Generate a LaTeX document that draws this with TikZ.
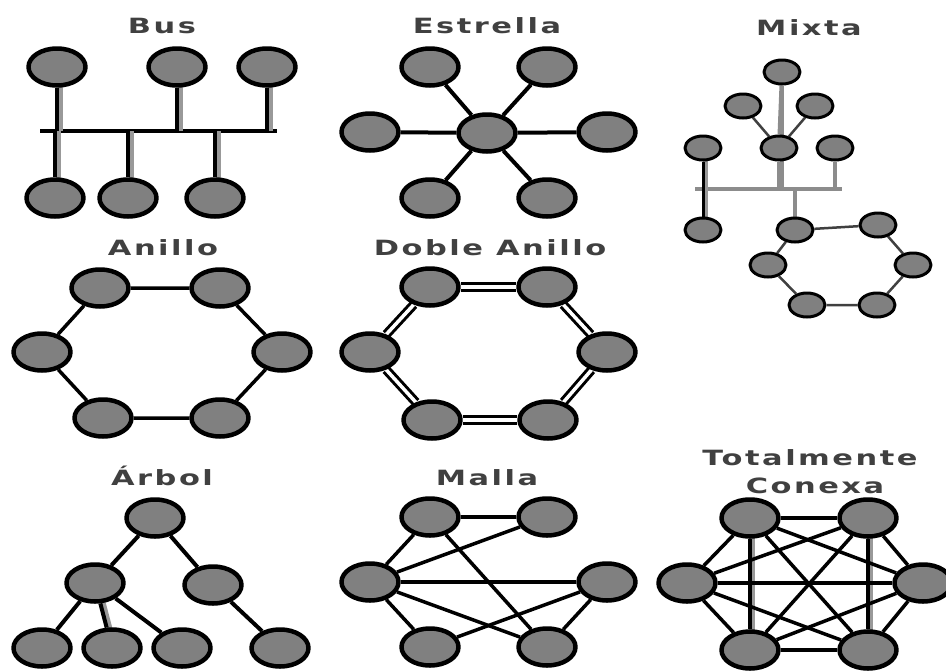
\documentclass[tikz,border=0pt]{standalone}
\usepackage{fontspec}
\usepackage{tikz}
\usetikzlibrary{shapes.geometric, backgrounds}
\newfontfamily\titlefont[FakeStretch=1.45, LetterSpace=12]{DejaVu Sans Bold}

\begin{document}
\begin{tikzpicture}[x=1pt, y=-1pt, line join=round,
  station/.style={ellipse, draw=black, fill=black!50, line width=4.5pt, inner sep=0pt, minimum width=57pt, minimum height=37pt},
  small station/.style={station, line width=3pt, minimum width=36pt, minimum height=24pt},
  heading/.style={font=\titlefont\fontsize{21}{24}\selectfont, text=black!75, anchor=base, inner sep=0pt},
  link/.style={line width=4pt, black},
  ring link/.style={line width=3.5pt, black},
  twin link/.style={double, double distance=3.5pt, line width=3pt},
  grey line/.style={line width=5pt, black!40},
  mix line/.style={line width=4pt, black!45},
  mix link/.style={line width=2.5pt, black!75}]

\useasboundingbox (0,0) rectangle (946,670);

%titles
\node[heading] (tBus) at (162,33) {Bus};
\node[heading] (tEst) at (487,33) {Estrella};
\node[heading] (tMix) at (809,35) {Mixta};
\node[heading] (tAni) at (163,255) {Anillo};
\node[heading] (tDob) at (490,255) {Doble Anillo};
\node[heading] (tArb) at (162,485) {Árbol};
\node[heading] (tMal) at (487,485) {Malla};
\node[heading] (tTot) at (810,465) {Totalmente};
\node[heading] (tCon) at (815,493) {Conexa};

% Bus
\node[station] (bu1) at (57,67) {};
\node[station] (bu2) at (177,67) {};
\node[station] (bu3) at (267,67) {};
\node[station] (bd1) at (55,198) {};
\node[station] (bd2) at (128,198) {};
\node[station] (bd3) at (215,198) {};
\coordinate (busL) at (40,131);
\coordinate (busR) at (277,131);

% Estrella
\node[station] (st0) at (487,133) {};
\node[station] (st1) at (430,67) {};
\node[station] (st2) at (547,67) {};
\node[station] (st3) at (607,132) {};
\node[station] (st4) at (547,198) {};
\node[station] (st5) at (430,198) {};
\node[station] (st6) at (370,132) {};

% Mixta
\node[small station] (mx1) at (782,72) {};
\node[small station] (mx2) at (743,106) {};
\node[small station] (mx3) at (815,106) {};
\node[small station] (mx4) at (703,148) {};
\node[small station] (mx5) at (779,148) {};
\node[small station] (mx6) at (835,148) {};
\node[small station] (mx7) at (703,230) {};
\node[small station] (rg1) at (795,230) {};
\node[small station] (rg2) at (878,225) {};
\node[small station] (rg3) at (913,265) {};
\node[small station] (rg4) at (877,305) {};
\node[small station] (rg5) at (807,305) {};
\node[small station] (rg6) at (768,265) {};
\coordinate (mixL) at (695,189);
\coordinate (mixR) at (842,189);

% Anillo
\node[station] (an1) at (100,288) {};
\node[station] (an2) at (220,288) {};
\node[station] (an3) at (282,352) {};
\node[station] (an4) at (220,418) {};
\node[station] (an5) at (103,418) {};
\node[station] (an6) at (42,352) {};

% Doble Anillo
\node[station] (da1) at (430,287) {};
\node[station] (da2) at (547,287) {};
\node[station] (da3) at (607,352) {};
\node[station] (da4) at (548,420) {};
\node[station] (da5) at (432,420) {};
\node[station] (da6) at (370,352) {};

% Arbol
\node[station] (ar0) at (155,518) {};
\node[station] (ar1) at (95,583) {};
\node[station] (ar2) at (213,585) {};
\node[station] (ar3) at (42,648) {};
\node[station] (ar4) at (112,648) {};
\node[station] (ar5) at (182,648) {};
\node[station] (ar6) at (280,648) {};

% Malla
\node[station] (ma1) at (430,517) {};
\node[station] (ma2) at (547,517) {};
\node[station] (ma3) at (607,582) {};
\node[station] (ma4) at (547,647) {};
\node[station] (ma5) at (430,647) {};
\node[station] (ma6) at (370,582) {};

% Totalmente Conexa
\node[station] (tc1) at (750,518) {};
\node[station] (tc2) at (868,518) {};
\node[station] (tc3) at (923,583) {};
\node[station] (tc4) at (868,650) {};
\node[station] (tc5) at (750,650) {};
\node[station] (tc6) at (687,583) {};

\begin{scope}[on background layer]
% bus line and drops
\draw[link] (busL) -- (busR);
\foreach \n in {bu1,bu2,bu3,bd1,bd2,bd3} {
  \draw[grey line] ([xshift=3pt]\n.center) -- ([xshift=3pt]\n |- busL);
  \draw[link] (\n) -- (\n |- busL);
}

% star
\foreach \n in {st1,st2,st3,st4,st5,st6}
  \draw[link] (st0) -- (\n);

% mixed
\draw[mix line] (mixL) -- (mixR);
\foreach \n in {mx1,mx5,mx6}
  \draw[mix line] (\n) -- (\n |- mixL);
\draw[mix line] (mx5) -- (mx1);
\draw[grey line] ([xshift=2pt]mx4.center) -- ([xshift=2pt]mx7.center);
\draw[line width=3pt] (mx4) -- (mx7);
\draw[mix line] (rg1 |- mixL) -- (rg1);
\draw[mix link] (mx2) -- (mx5) (mx3) -- (mx5);
\draw[mix link] (rg1) -- (rg2) -- (rg3) -- (rg4) -- (rg5) -- (rg6) -- (rg1);

% ring
\draw[ring link] (an1) -- (an2) -- (an3) -- (an4) -- (an5) -- (an6) -- (an1);

% double ring
\foreach \a/\b in {da1/da2,da2/da3,da3/da4,da4/da5,da5/da6,da6/da1}
  \draw[twin link] (\a) -- (\b);

% tree
\draw[grey line] ([xshift=3pt]ar1.center) -- ([xshift=3pt]ar4.center);
\foreach \a/\b in {ar0/ar1,ar0/ar2,ar1/ar3,ar1/ar4,ar1/ar5,ar2/ar6}
  \draw[link] (\a) -- (\b);

% mesh
\foreach \a/\b in {ma1/ma2,ma1/ma6,ma2/ma6,ma1/ma4,ma6/ma3,ma6/ma5,ma6/ma4,ma5/ma3,ma3/ma4}
  \draw[ring link] (\a) -- (\b);

% fully connected
\draw[grey line, line width=6pt] ([xshift=2pt]tc1.center) -- ([xshift=2pt]tc5.center);
\draw[grey line, line width=6pt] ([xshift=2pt]tc2.center) -- ([xshift=2pt]tc4.center);
\foreach \a/\b in {tc1/tc2,tc1/tc3,tc1/tc4,tc1/tc5,tc1/tc6,tc2/tc3,tc2/tc4,tc2/tc5,tc2/tc6,
                   tc3/tc4,tc3/tc5,tc3/tc6,tc4/tc5,tc4/tc6,tc5/tc6}
  \draw[ring link] (\a) -- (\b);
\end{scope}

\end{tikzpicture}
\end{document}
